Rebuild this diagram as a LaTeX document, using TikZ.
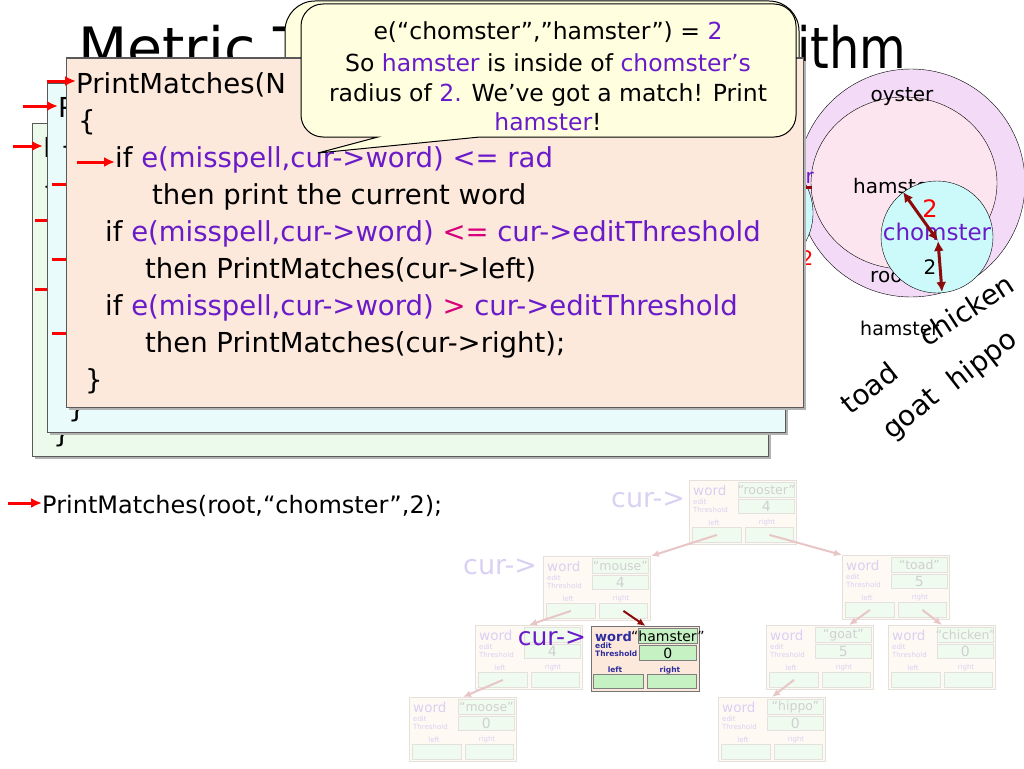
\documentclass[tikz,border=0pt]{standalone}
\usepackage{fontspec}
\setmainfont{DejaVu Sans}
\definecolor{cPurple}{HTML}{6A1BC9}
\definecolor{cMagenta}{HTML}{D6007A}
\definecolor{cRed}{HTML}{FF0000}
\definecolor{cDark}{HTML}{8C0A0A}
\definecolor{cPeach}{HTML}{FDE9DB}
\definecolor{cIce}{HTML}{E9FBFB}
\definecolor{cMint}{HTML}{EBFAEA}
\definecolor{cCream}{HTML}{FFFFE0}
\definecolor{cLav}{HTML}{F3DBF7}
\definecolor{cPink}{HTML}{FCE5EF}
\definecolor{cAqua}{HTML}{CCFAFA}
\definecolor{cNavy}{HTML}{2E2E9E}
\definecolor{cLeaf}{HTML}{C6F2C3}
\definecolor{cFadeTxt}{HTML}{D9D0F2}
\definecolor{cFadeVal}{HTML}{D0D0D0}
\definecolor{cFadeFill}{HTML}{FFF9F4}
\definecolor{cFadeLeaf}{HTML}{F0FBEF}
\definecolor{cFadeLine}{HTML}{E4E0DC}
\definecolor{cFadeArr}{HTML}{E8C6C6}
\usetikzlibrary{shapes,arrows.meta}
\usetikzlibrary{calc}

\begin{document}
\begin{tikzpicture}[x=1pt, y=-1pt,
		code/.style={anchor=base west, inner sep=0, font=\fontsize{27.5}{30}\selectfont},
		bubble/.style={anchor=base, inner sep=0, font=\fontsize{23.5}{26}\selectfont},
		circ/.style={inner sep=0, font=\fontsize{20}{22}\selectfont},
		slant/.style={inner sep=0, font=\fontsize{28}{30}\selectfont},
		sheet/.style={draw=black!65, line width=1pt},
		redarr/.style={cRed, line width=3pt, -{Latex[length=11pt,width=10pt]}},
		radius arrow/.style={cDark, line width=3pt, {Latex[length=10pt,width=10pt]}-{Latex[length=10pt,width=10pt]}},
		fadeframe/.style={fill=cFadeFill, draw=cFadeLine, line width=1pt, anchor=north west, inner sep=0, minimum width=107pt, minimum height=64pt},
		fadefield/.style={fill=cFadeLeaf, draw=cFadeLine, line width=0.8pt, anchor=north west, inner sep=0},
		fadeval/.style={text=cFadeVal, inner sep=0, font=\fontsize{12.5}{12.5}\selectfont},
		fadelabel/.style={text=cFadeTxt, inner sep=0, font=\fontsize{13.5}{13.5}\selectfont},
		fadetiny/.style={text=cFadeTxt, inner sep=0, align=left, font=\fontsize{7}{7.5}\selectfont},
		fadecur/.style={text=cFadeTxt, inner sep=0, font=\fontsize{27}{27}\selectfont},
		fadearr/.style={cFadeArr, line width=2pt, -{Latex[length=8pt,width=7pt]}},
		liveframe/.style={fill=cPeach, draw=black!55, line width=1pt, anchor=north west, inner sep=0, minimum width=108pt, minimum height=65pt},
		livefield/.style={fill=cLeaf, draw=black!50, line width=0.8pt, anchor=north west, inner sep=0},
		livelabel/.style={text=cNavy, inner sep=0, font=\bfseries\fontsize{13}{13}\selectfont},
		livetiny/.style={text=cNavy, inner sep=0, align=left, font=\bfseries\fontsize{7.5}{8}\selectfont},
		livearr/.style={cDark, line width=2pt, -{Latex[length=8pt,width=7pt]}}
	]
	\useasboundingbox (0,0) rectangle (1024,768);
	\node[anchor=base west, inner sep=0, font=\fontsize{57}{57}\selectfont] (title-l) at (78,68) {Metric T};
	\node[anchor=base west, inner sep=0, font=\fontsize{57}{57}\selectfont, xscale=0.84] (title-r) at (797,68) {ithm};
	\draw[fill=cCream, line width=1pt, rounded corners=30pt] (285,1) rectangle (799,150);
	\draw[fill=cLav] (911,183) circle (114);
	\draw[fill=cPink] (904,183) ellipse (93 and 86);
	\draw[fill=cAqua] (753,213) circle (60);
	\draw[cDark, line width=3pt] (770,187) -- (812,187);
	\node[circ, text=cPurple, anchor=base east] at (814,183) {chomster};
	\node[circ, text=cRed] at (807,258) {2};

	\fill[black!30] (35,126) rectangle (771,459);
	\draw[sheet, fill=cMint] (32,123) rectangle (768,456);
	\node[code] (b1) at (43,157) {P};
	\node[code] (b2) at (42,195) {\{};
	\node[code] (b3) at (53,442) {\}};
	\coordinate (bA) at (13,146);
	\draw[redarr] (bA) -- (bA -| b1.west);
	\foreach \y in {220,289} \draw[redarr] (35,\y) -- (62,\y);

	\fill[black!30] (50,86) rectangle (788,435);
	\draw[sheet, fill=cIce] (47,83) rectangle (785,432);
	\node[code] (m1) at (58,117) {P};
	\node[code] (m2) at (60,155) {\{};
	\node[code] (m3) at (68,417) {\}};
	\coordinate (mA) at (23,106);
	\draw[redarr] (mA) -- (mA -| m1.west);
	\foreach \y in {184,259,333} \draw[redarr] (52,\y) -- (80,\y);

	\fill[black!30] (69,61) rectangle (806,410);
	\draw[sheet, fill=cPeach] (66,58) rectangle (803,407);
	\node[code] (f1) at (76,93) {PrintMatches(N};
	\node[code] (f2) at (78,130) {\{};
	\node[code] (f3) at (115,167) {if \textcolor{cPurple}{e(misspell,cur->word) <= rad}};
	\node[code] (f4) at (152,204) {then print the current word};
	\node[code] (f5) at (105,241) {if \textcolor{cPurple}{e(misspell,cur->word)} \textcolor{cMagenta}{<=} \textcolor{cPurple}{cur->editThreshold}};
	\node[code] (f6) at (145,278) {then PrintMatches(cur->left)};
	\node[code] (f7) at (105,315) {if \textcolor{cPurple}{e(misspell,cur->word)} \textcolor{cMagenta}{>} \textcolor{cPurple}{cur->editThreshold}};
	\node[code] (f8) at (145,352) {then PrintMatches(cur->right);};
	\node[code] (f9) at (85,389) {\}};
	\coordinate (fA) at (47,81);
	\coordinate (fB) at (77,162);
	\draw[redarr] (fA) -- (fA -| f1.west);
	\draw[redarr] (fB) -- (fB -| f3.west);

	\draw[fill=cCream, line width=1pt] (318,153) -- (378,137) [rounded corners=22pt] -- (301,137) -- (301,4) -- (796,4) -- (796,137) [sharp corners] -- (480,137) -- cycle;
	\node[bubble] (c1) at (548,40) {e(“chomster”,”hamster”) = \textcolor{cPurple}{2}};
	\node[bubble] (c2) at (548,71) {So \textcolor{cPurple}{hamster} is inside of \textcolor{cPurple}{chomster’s}};
	\node[bubble] (c3) at (548,101) {radius of \textcolor{cPurple}{2.} We’ve got a match! Print};
	\node[bubble] (c4) at (548,130) {\textcolor{cPurple}{hamster}!};

	\node[circ] (oy) at (902,97) {oyster};
	\node[circ, anchor=base west] (hm) at (853,193) {hamster};
	\node[circ, anchor=base west] (ro) at (870,282) {rooster};
	\draw[fill=cAqua] (937,237) circle (56);
	\node[circ, text=cPurple, font=\fontsize{23}{23}\selectfont] (ch) at (937,232) {chomster};
	\node[circ, text=cRed, font=\fontsize{24}{24}\selectfont] (r1) at (930,209) {2};
	\node[circ] (r2) at (930,267) {2};
	\coordinate (cc) at (938,241);
	\coordinate (ce) at (903,192);
	\coordinate (cb) at (942,292);
	\draw[radius arrow] (cc) -- (ce);
	\draw[radius arrow] (cc) -- (cb);

	\node[inner sep=0, font=\fontsize{19}{19}\selectfont, anchor=base west] (w1) at (860,335) {hamster};
	\node[slant, rotate=33] (w2) at (966,310) {chicken};
	\node[slant, rotate=38] (w3) at (869,388) {toad};
	\node[slant, rotate=40] (w4) at (912,415) {goat};
	\node[slant, rotate=38] (w5) at (983,361) {hippo};

	\node[code, font=\fontsize{24}{24}\selectfont] (call) at (42,513) {PrintMatches(root,“chomster”,2);};
	\coordinate (a0) at (8,503);
	\draw[redarr] (a0) -- (a0 -| call.west);

	\foreach \nm/\x/\y/\word/\val in {rooster/689/480/“rooster”/4, mouse/543/556/“mouse”/4, hid/475/625//4, moose/409/697/“moose”/0, toad/842/555/“toad”/5, goat/766/625/“goat”/5, chicken/888/625/“chicken”/0, hippo/718/697/“hippo”/0}{
		\node[fadeframe] (\nm) at (\x,\y) {};
		\node[fadelabel, anchor=west] at (\x+4,\y+10) {word};
		\node[fadefield, minimum width=56pt, minimum height=15pt] (\nm-w) at (\x+49,\y+2) {};
		\node[fadeval] at (\nm-w) {\word};
		\node[fadetiny, anchor=north west] at (\x+4,\y+19) {edit\\Threshold};
		\node[fadefield, minimum width=56pt, minimum height=14pt] (\nm-t) at (\x+49,\y+19) {};
		\node[fadeval, font=\fontsize{14}{14}\selectfont] at (\nm-t) {\val};
		\node[fadetiny] at (\x+25,\y+43) {left};
		\node[fadetiny] at (\x+78,\y+43) {right};
		\node[fadefield, minimum width=49pt, minimum height=15pt] (\nm-l) at (\x+3,\y+47) {};
		\node[fadefield, minimum width=48pt, minimum height=15pt] (\nm-r) at (\x+56,\y+47) {};
	}
	\node[fadecur] (cur1) at (648,500) {cur->};
	\node[fadecur] (cur2) at (500,567) {cur->};

	\node[liveframe] (hamster) at (591,626) {};
	\node[livelabel, anchor=west] at (595,637) {word};
	\node[livefield, minimum width=59pt, minimum height=15pt] (hamster-w) at (638,628) {};
	\node[inner sep=0, font=\fontsize{14}{14}\selectfont] at (hamster-w) {“hamster”};
	\node[livetiny, anchor=north west] at (595,643) {edit\\Threshold};
	\node[livefield, minimum width=57pt, minimum height=15pt] (hamster-t) at (639,645) {};
	\node[inner sep=0, font=\fontsize{14}{14}\selectfont] at (hamster-t) {0};
	\node[livetiny] at (615,670) {left};
	\node[livetiny] at (670,670) {right};
	\node[livefield, minimum width=50pt, minimum height=14pt] (hamster-l) at (593,674) {};
	\node[livefield, minimum width=49pt, minimum height=14pt] (hamster-r) at (647,674) {};

	\draw[fadearr] (rooster-l.center) -- (mouse.north east);
	\draw[fadearr] (rooster-r.center) -- (toad.north west);
	\draw[fadearr] (mouse-l.center) -- (hid.north);
	\draw[livearr] (mouse-r.center) -- (hamster.north);
	\draw[fadearr] (hid-l.center) -- (moose.north);
	\draw[fadearr] (toad-l.center) -- ($(goat.north east)+(-25,0)$);
	\draw[fadearr] (toad-r.center) -- (chicken.north);
	\draw[fadearr] (goat-l.center) -- (hippo.north);
	\node[inner sep=0, text=cPurple, font=\fontsize{25}{25}\selectfont] (cur3) at (552,638) {cur->};
\end{tikzpicture}
\end{document}
